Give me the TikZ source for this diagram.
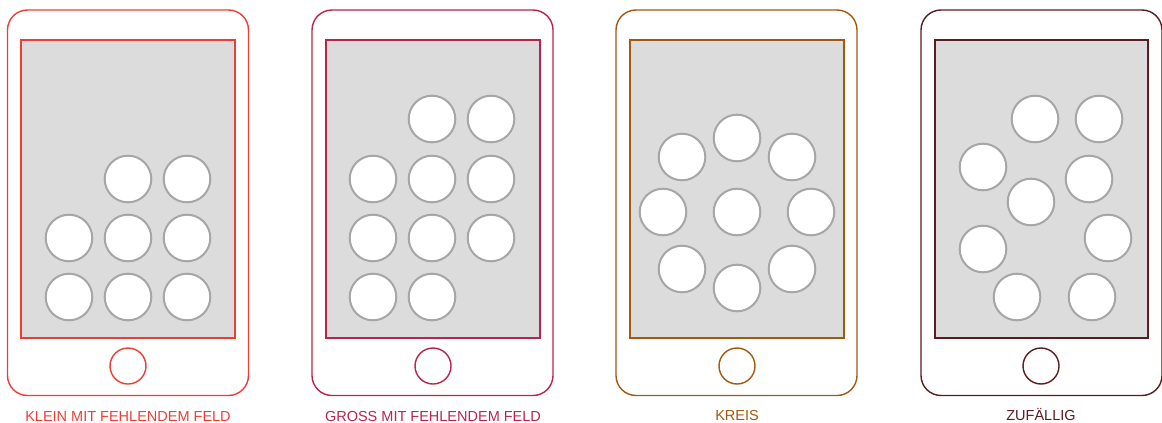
\documentclass[tikz,border=0pt]{standalone}
\usepackage{fontspec}
\setmainfont{Liberation Sans}
\definecolor{cA}{HTML}{EE3D36}
\definecolor{cB}{HTML}{B8244C}
\definecolor{cC}{HTML}{A3580F}
\definecolor{cD}{HTML}{5C1B1F}
\definecolor{scr}{HTML}{DCDCDC}
\definecolor{btn}{HTML}{A6A6A6}
\tikzset{
  body/.style={line width=1.4pt, rounded corners=20pt, fill=white},
  screen/.style={line width=1.4pt, fill=scr},
  home/.style={circle, line width=1.4pt, minimum size=36pt, inner sep=0pt, draw},
  key/.style={circle, draw=btn, line width=2pt, fill=white, minimum size=46.6pt, inner sep=0pt},
  caption/.style={anchor=base, font=\fontsize{14.5}{16}\selectfont, inner sep=0pt},
}
\begin{document}
\begin{tikzpicture}[x=1pt,y=-1pt]
\useasboundingbox (0,0) rectangle (1162,423);
% ---- Tablet 1
\draw[body, draw=cA] (7.5,10) rectangle (248.5,395.5);
\draw[screen, draw=cA] (21,40) rectangle (235,338);
\node[home, draw=cA] (h1) at (128,366) {};
\node[key] (a1) at (128,179) {};
\node[key] (a2) at (187,179) {};
\node[key] (a3) at (69,238) {};
\node[key] (a4) at (128,238) {};
\node[key] (a5) at (187,238) {};
\node[key] (a6) at (69,297) {};
\node[key] (a7) at (128,297) {};
\node[key] (a8) at (187,297) {};
\node[caption, text=cA] (l1) at (128,421.5) {KLEIN MIT FEHLENDEM FELD};
% ---- Tablet 2
\draw[body, draw=cB] (312,10) rectangle (553,395.5);
\draw[screen, draw=cB] (326,40) rectangle (540,338);
\node[home, draw=cB] (h2) at (433,366) {};
\node[key] (b1) at (432,119) {};
\node[key] (b2) at (491,119) {};
\node[key] (b3) at (373,179) {};
\node[key] (b4) at (432,179) {};
\node[key] (b5) at (491,179) {};
\node[key] (b6) at (373,238) {};
\node[key] (b7) at (432,238) {};
\node[key] (b8) at (491,238) {};
\node[key] (b9) at (373,297) {};
\node[key] (b10) at (432,297) {};
\node[caption, text=cB] (l2) at (433,421.5) {GROSS MIT FEHLENDEM FELD};
% ---- Tablet 3
\draw[body, draw=cC] (616,10) rectangle (857,395.5);
\draw[screen, draw=cC] (630,40) rectangle (844,338);
\node[home, draw=cC] (h3) at (737,366) {};
\node[key] (c0) at (737,212) {};
\node[key] (c1) at (737,138) {};
\node[key] (c2) at (792,157) {};
\node[key] (c3) at (811,212) {};
\node[key] (c4) at (792,269) {};
\node[key] (c5) at (737,288) {};
\node[key] (c6) at (682,269) {};
\node[key] (c7) at (663,212) {};
\node[key] (c8) at (682,157) {};
\node[caption, text=cC] (l3) at (737,420) {KREIS};
% ---- Tablet 4
\draw[body, draw=cD] (921,10) rectangle (1162,395.5);
\draw[screen, draw=cD] (935,40) rectangle (1148,338);
\node[home, draw=cD] (h4) at (1041,366) {};
\node[key] (d1) at (1035,119) {};
\node[key] (d2) at (1099,119) {};
\node[key] (d3) at (983,167) {};
\node[key] (d4) at (1089,179) {};
\node[key] (d5) at (1031,202) {};
\node[key] (d6) at (983,249) {};
\node[key] (d7) at (1108,238) {};
\node[key] (d8) at (1017,297) {};
\node[key] (d9) at (1092,297) {};
\node[caption, text=cD] (l4) at (1041,420) {ZUFÄLLIG};
\end{tikzpicture}
\end{document}
